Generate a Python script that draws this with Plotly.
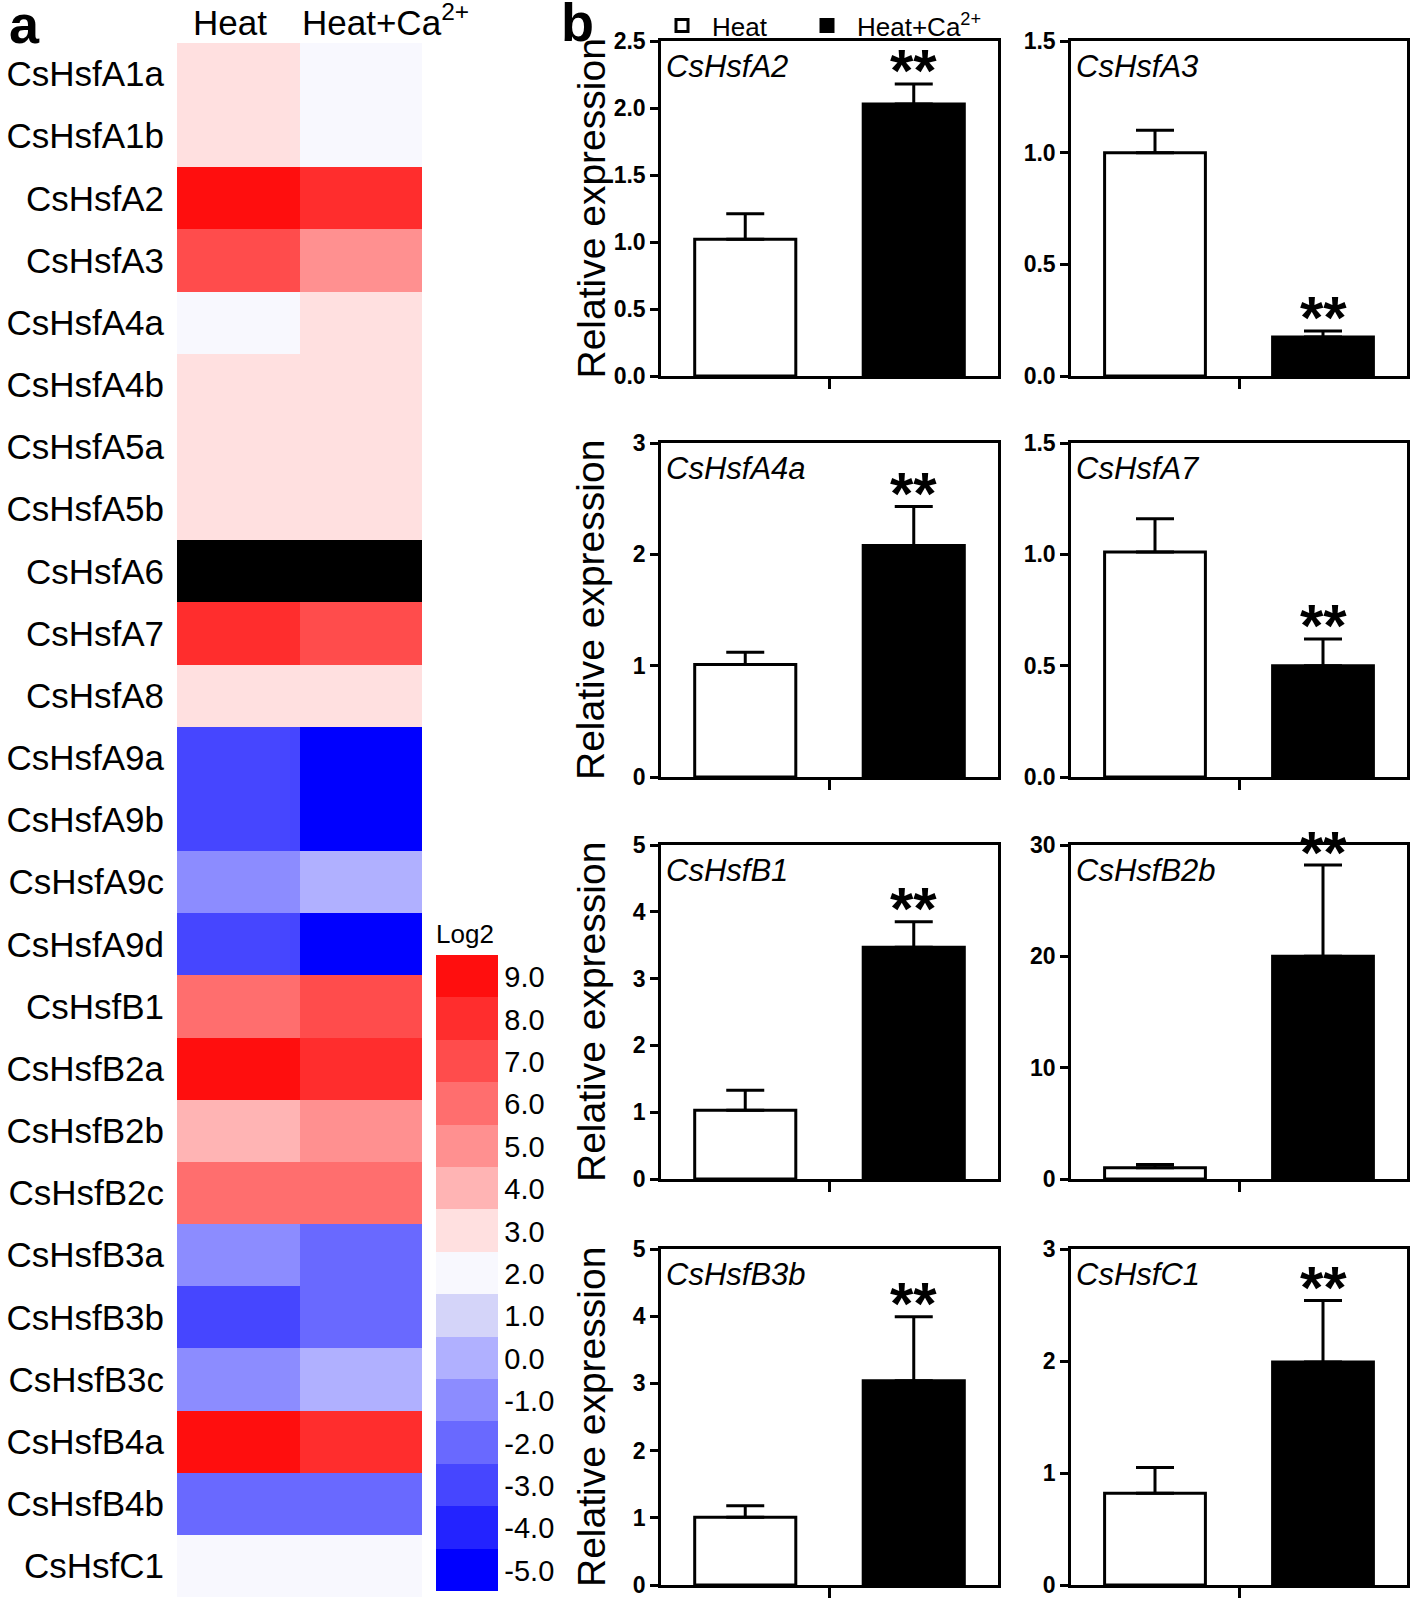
import plotly.graph_objects as go

# ---------------- Data ----------------
genes = ["CsHsfA1a", "CsHsfA1b", "CsHsfA2", "CsHsfA3", "CsHsfA4a", "CsHsfA4b",
         "CsHsfA5a", "CsHsfA5b", "CsHsfA6", "CsHsfA7", "CsHsfA8", "CsHsfA9a",
         "CsHsfA9b", "CsHsfA9c", "CsHsfA9d", "CsHsfB1", "CsHsfB2a", "CsHsfB2b",
         "CsHsfB2c", "CsHsfB3a", "CsHsfB3b", "CsHsfB3c", "CsHsfB4a", "CsHsfB4b",
         "CsHsfC1"]
log2_heat = [3.4, 3.3, 9.6, 7.5, 2.4, 3.5, 3.6, 3.4, None, 8.4, 3.3, -2.6,
             -2.5, -0.6, -2.7, 6.5, 9.7, 4.4, 6.4, -0.5, -2.4, -0.4, 9.5, -1.4, 2.4]
log2_heat_ca = [2.6, 2.5, 8.7, 5.4, 3.3, 3.4, 3.5, 3.6, None, 7.6, 3.5, -4.8,
                -4.7, 0.4, -4.6, 7.4, 8.5, 5.5, 6.6, -1.6, -1.5, 0.5, 8.6, -1.5, 2.5]
conditions = ["Heat", "Heat+Ca<sup>2+</sup>"]

cbar_ticks = [9.0, 8.0, 7.0, 6.0, 5.0, 4.0, 3.0, 2.0, 1.0, 0.0, -1.0, -2.0, -3.0, -4.0, -5.0]
band_colors = ["#0000FF", "#2323FF", "#4646FF", "#6969FF", "#8C8CFF", "#B0B0FF",
               "#D4D4F9", "#F8F8FE", "#FFE0E0", "#FFB4B4", "#FF9090", "#FF6E6E",
               "#FF4C4C", "#FF2D2D", "#FF0E0E"]

panel_genes = ["CsHsfA2", "CsHsfA3", "CsHsfA4a", "CsHsfA7",
               "CsHsfB1", "CsHsfB2b", "CsHsfB3b", "CsHsfC1"]
heat_mean = [1.02, 1.00, 1.01, 1.01, 1.03, 1.01, 1.01, 0.82]
heat_err = [0.19, 0.10, 0.11, 0.15, 0.30, 0.30, 0.17, 0.23]
ca_mean = [2.03, 0.175, 2.08, 0.50, 3.47, 20.0, 3.04, 1.99]
ca_err = [0.15, 0.027, 0.35, 0.12, 0.38, 8.2, 0.95, 0.55]
signif = ["**", "**", "**", "**", "**", "**", "**", "**"]
y_max = [2.5, 1.5, 3, 1.5, 5, 30, 5, 3]
y_dtick = [0.5, 0.5, 1, 0.5, 1, 10, 1, 1]
y_format = [".1f", ".1f", "d", ".1f", "d", "d", "d", "d"]

# ---------------- Figure ----------------
W, H = 1418, 1601
FONT = "Arial, Liberation Sans, Helvetica, sans-serif"

def px_x(p):
    return p / W

def px_y(p):
    return 1 - p / H

fig = go.Figure()

zmin, zmax = -5, 10
nb = len(band_colors)
colorscale = []
for i, c in enumerate(band_colors):
    colorscale.append([i / nb, c])
    colorscale.append([(i + 1) / nb, c])

z = [[h, c] for h, c in zip(log2_heat, log2_heat_ca)]
fig.add_trace(go.Heatmap(
    z=z, x=[0, 1], y=genes, zmin=zmin, zmax=zmax, colorscale=colorscale,
    xaxis="x", yaxis="y", hoverongaps=False,
    colorbar=dict(
        title=dict(text="Log2", side="top", font=dict(size=26, family=FONT, color="black")),
        tickvals=cbar_ticks, ticktext=[f"{v:.1f}" for v in cbar_ticks],
        ticks="", ticklabelposition="outside top",
        tickfont=dict(size=29, family=FONT, color="black"),
        thickness=62, thicknessmode="pixels",
        len=671, lenmode="pixels",
        x=px_x(436), xanchor="left", y=px_y(1591), yanchor="bottom",
        xpad=0, ypad=0, outlinewidth=0,
    ),
))
# missing rows (no value) drawn in black
missing = [[1 if h is None else None, 1 if c is None else None]
           for h, c in zip(log2_heat, log2_heat_ca)]
fig.add_trace(go.Heatmap(
    z=missing, x=[0, 1], y=genes, colorscale=[[0, "black"], [1, "black"]],
    showscale=False, xaxis="x", yaxis="y", hoverinfo="skip",
))

legend_common = dict(orientation="h", xanchor="left", yanchor="top",
                     font=dict(size=26, family=FONT, color="black"),
                     bgcolor="rgba(0,0,0,0)", itemwidth=50, tracegroupgap=0)

layout = dict(
    width=W, height=H, autosize=False,
    margin=dict(l=0, r=0, t=0, b=0, autoexpand=False),
    paper_bgcolor="white", plot_bgcolor="white",
    font=dict(family=FONT, color="black"),
    barmode="overlay",
    showlegend=True,
    legend=dict(x=px_x(652), y=px_y(2), **legend_common),
    legend2=dict(x=px_x(797), y=px_y(2), **legend_common),
    xaxis=dict(domain=[px_x(177), px_x(422)], range=[-0.5, 1.5], side="top",
               tickvals=[0, 1], showticklabels=False, ticks="",
               showgrid=False, zeroline=False, showline=False, fixedrange=True,
               anchor="y", automargin=False),
    yaxis=dict(domain=[px_y(1597), px_y(43)], autorange="reversed", ticks="",
               tickfont=dict(size=35, family=FONT, color="black"),
               showgrid=False, zeroline=False, showline=False,
               anchor="x", ticklabelstandoff=12, automargin=False),
)

col_x = [(661, 998), (1071, 1407)]
row_y = [(41, 376), (443, 777), (845, 1179), (1249, 1585)]

annotations = []
# column headers of the heatmap
annotations.append(dict(text=conditions[0], xref="x", yref="paper", x=0, y=px_y(44),
                        xanchor="center", yanchor="bottom", xshift=-8, showarrow=False,
                        font=dict(size=35, family=FONT, color="black")))
annotations.append(dict(text=conditions[1], xref="x", yref="paper", x=0.5, y=px_y(44),
                        xanchor="left", yanchor="bottom", showarrow=False,
                        font=dict(size=35, family=FONT, color="black")))

for k in range(len(panel_genes)):
    r, c = divmod(k, 2)
    ax_i = k + 2
    xa, ya = f"x{ax_i}", f"y{ax_i}"
    xl, yl = f"xaxis{ax_i}", f"yaxis{ax_i}"
    x0, x1 = col_x[c]
    y0, y1 = row_y[r]
    layout[xl] = dict(domain=[px_x(x0), px_x(x1)], range=[-0.5, 1.5], anchor=ya,
                      tickvals=[0.5], showticklabels=False, ticks="outside", ticklen=10,
                      tickwidth=2.5, tickcolor="black",
                      showline=True, linewidth=2.5, linecolor="black", mirror=True,
                      showgrid=False, zeroline=False, fixedrange=True, automargin=False)
    layout[yl] = dict(domain=[px_y(y1), px_y(y0)], range=[0, y_max[k]], anchor=xa,
                      dtick=y_dtick[k], tick0=0, tickformat=y_format[k],
                      ticks="outside", ticklen=8, tickwidth=2.5, tickcolor="black",
                      tickfont=dict(size=23, family=FONT, color="black", weight="bold"),
                      showline=True, linewidth=2.5, linecolor="black", mirror=True,
                      showgrid=False, zeroline=False, fixedrange=True, automargin=False)
    fig.add_trace(go.Bar(
        x=[0], y=[heat_mean[k]], width=0.6, name="Heat", legend="legend",
        showlegend=(k == 0), xaxis=xa, yaxis=ya,
        marker=dict(color="white", line=dict(color="black", width=3)),
        error_y=dict(type="data", array=[heat_err[k]], arrayminus=[0], symmetric=False,
                     color="black", thickness=3, width=19),
    ))
    fig.add_trace(go.Bar(
        x=[1], y=[ca_mean[k]], width=0.6, name="Heat+Ca<sup>2+</sup>", legend="legend2",
        showlegend=(k == 0), xaxis=xa, yaxis=ya,
        marker=dict(color="black", line=dict(color="black", width=3)),
        error_y=dict(type="data", array=[ca_err[k]], arrayminus=[0], symmetric=False,
                     color="black", thickness=3, width=19),
    ))
    # gene name
    annotations.append(dict(text=f"<i>{panel_genes[k]}</i>", xref=f"{xa} domain",
                            yref=f"{ya} domain", x=0.01, y=1, xanchor="left",
                            yanchor="top", yshift=-6, showarrow=False,
                            font=dict(size=31, family=FONT, color="black")))
    # significance stars
    annotations.append(dict(text=signif[k], xref=xa, yref=ya, x=1,
                            y=ca_mean[k] + ca_err[k], xanchor="center", yanchor="middle",
                            yshift=13, showarrow=False,
                            font=dict(size=60, family=FONT, color="black", weight="bold")))
    if c == 0:
        annotations.append(dict(text="Relative expression", xref="paper", yref="paper",
                                x=px_x(591), y=px_y((y0 + y1) / 2), textangle=-90,
                                xanchor="center", yanchor="middle", showarrow=False,
                                font=dict(size=39, family=FONT, color="black")))

annotations.append(dict(text="<b>a</b>", xref="paper", yref="paper", x=px_x(24), y=px_y(24),
                        xanchor="center", yanchor="middle", showarrow=False,
                        font=dict(size=54, family=FONT, color="black")))
annotations.append(dict(text="<b>b</b>", xref="paper", yref="paper", x=px_x(577), y=px_y(22),
                        xanchor="center", yanchor="middle", showarrow=False,
                        font=dict(size=54, family=FONT, color="black")))
layout["annotations"] = annotations

fig.update_layout(**layout)
fig.write_html("out.html", config={"displayModeBar": False},
               post_script="document.body.style.margin='0px';")
